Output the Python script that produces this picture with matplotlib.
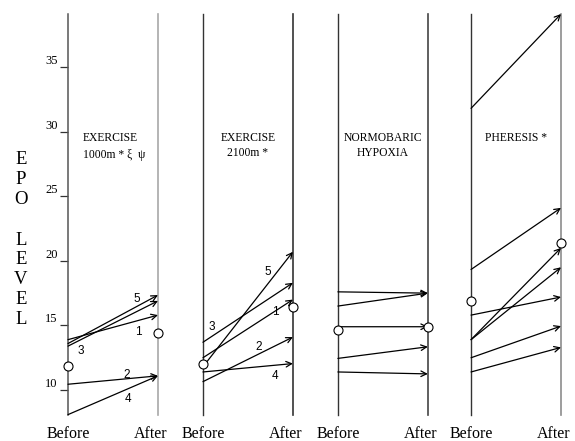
import matplotlib
matplotlib.use("Agg")
import matplotlib.pyplot as plt
import matplotlib.transforms as mtransforms

# ---------------- data ----------------
panel_titles = ["EXERCISE\n1000m * \u03be  \u03c8", "EXERCISE\n2100m *", "NORMOBARIC\nHYPOXIA", "PHERESIS *"]

p1_before = [13.9, 10.45, 13.4, 8.1, 13.6]
p1_after = [15.8, 11.1, 16.9, 11.1, 17.35]
p1_ids = ["1", "2", "3", "4", "5"]

p2_before = [12.5, 10.65, 13.7, 11.4, 11.8]
p2_after = [17.0, 14.1, 18.3, 12.05, 20.7]
p2_ids = ["1", "2", "3", "4", "5"]

p3_before = [17.6, 16.5, 14.9, 12.45, 11.4]
p3_after = [17.5, 17.5, 14.9, 13.35, 11.25]

p4_before = [31.8, 19.33, 15.8, 13.9, 13.9, 12.5, 11.4]
p4_after = [39.1, 24.1, 17.2, 21.0, 19.5, 14.95, 13.3]

mean_before = [11.9, 12.0, 14.65, 16.9]
mean_after = [14.4, 16.4, 14.9, 21.4]

y_ticks = [10, 15, 20, 25, 30, 35]
y_ticklabels = ["10", "15", "20", "25", "30", "35"]
x_labels = ["Before", "After"]
y_label_letters = ["E", "P", "O", "", "L", "E", "V", "E", "L"]

# ---------------- figure ----------------
W, H = 575, 441
fig = plt.figure(figsize=(W / 100, H / 100), dpi=100)
ax = fig.add_axes([68 / W, 1 - 415 / H, (561 - 68) / W, (415 - 14) / H])
ax.set_xlim(0, 5.48)
ax.set_ylim(8.07, 39.1)

serif = ["Liberation Serif", "DejaVu Serif"]
sans = ["Liberation Sans", "DejaVu Sans"]

x_before = [0.0, 1.5, 3.0, 4.48]
x_after = [b + 1.0 for b in x_before]
after_colors = ["#a8a8a8", "#333333", "#444444", "#8c8c8c"]

for s in ["top", "right", "bottom", "left"]:
    ax.spines[s].set_visible(False)
ax.set_xticks([])

for i in range(4):
    ax.axvline(x_before[i], color="#333333" if i else "#555555", lw=1.1 if i == 0 else 1.0, clip_on=False)
    ax.axvline(x_after[i], color=after_colors[i], lw=1.2, clip_on=False)

ax.set_yticks(y_ticks)
ax.set_yticklabels(y_ticklabels, va="bottom", family=serif, fontsize=9)
ax.tick_params(axis="y", direction="out", length=6, width=0.9, pad=1.5, color="#333333")

panels = [(p1_before, p1_after), (p2_before, p2_after), (p3_before, p3_after), (p4_before, p4_after)]
for i, (bvals, avals) in enumerate(panels):
    for b, a in zip(bvals, avals):
        ax.annotate("", xy=(x_after[i], a), xytext=(x_before[i], b),
                    arrowprops=dict(arrowstyle="->", lw=0.9, color="black",
                                    shrinkA=0, shrinkB=0, mutation_scale=10),
                    annotation_clip=False)
    ax.plot([x_before[i]], [mean_before[i]], marker="o", ms=6.5, mfc="white",
            mec="black", mew=0.8, clip_on=False, zorder=5)
    ax.plot([x_after[i]], [mean_after[i]], marker="o", ms=6.5, mfc="white",
            mec="black", mew=0.8, clip_on=False, zorder=5)

# subject numbers (panels 1 and 2)
p1_label_pos = [(0.778, 14.49), (0.656, 11.16), (0.141, 13.04), (0.667, 9.30), (0.763, 17.04)]
for lab, (x, y) in zip(p1_ids, p1_label_pos):
    ax.text(x_before[0] + x, y, lab, family=sans, fontsize=8.5, ha="center", va="center")
p2_label_pos = [(0.8, 16.03), (0.62, 13.35), (0.1, 14.9), (0.8, 11.08), (0.72, 19.15)]
for lab, (x, y) in zip(p2_ids, p2_label_pos):
    ax.text(x_before[1] + x, y, lab, family=sans, fontsize=8.5, ha="center", va="center")

# panel titles
tfs = 8.4
ax.text(x_before[0] + 0.167, 29.5, panel_titles[0].split("\n")[0], family=serif, fontsize=tfs, ha="left", va="center")
ax.text(x_before[0] + 0.167, 28.2, panel_titles[0].split("\n")[1], family=serif, fontsize=tfs, ha="left", va="center")
for i in range(1, 4):
    lines = panel_titles[i].split("\n")
    cx = (x_before[i] + x_after[i]) / 2
    for k, t in enumerate(lines):
        ax.text(cx, 29.5 - 1.15 * k, t, family=serif, fontsize=tfs, ha="center", va="center")

# bottom labels
trans = mtransforms.blended_transform_factory(ax.transData, fig.transFigure)
for i in range(4):
    ax.text(x_before[i], 1 - 434 / H, x_labels[0], transform=trans, family=serif,
            fontsize=11.5, ha="center", va="center")
    ax.text(x_after[i] - 0.085, 1 - 434 / H, x_labels[1], transform=trans, family=serif,
            fontsize=11.5, ha="center", va="center")

# stacked y label
for k, ch in enumerate(y_label_letters):
    if ch:
        fig.text(21 / W, 1 - (160 + 20 * k) / H, ch, family=serif, fontsize=13.5,
                 ha="center", va="center")

fig.savefig("out.png", dpi=100, facecolor="white")
